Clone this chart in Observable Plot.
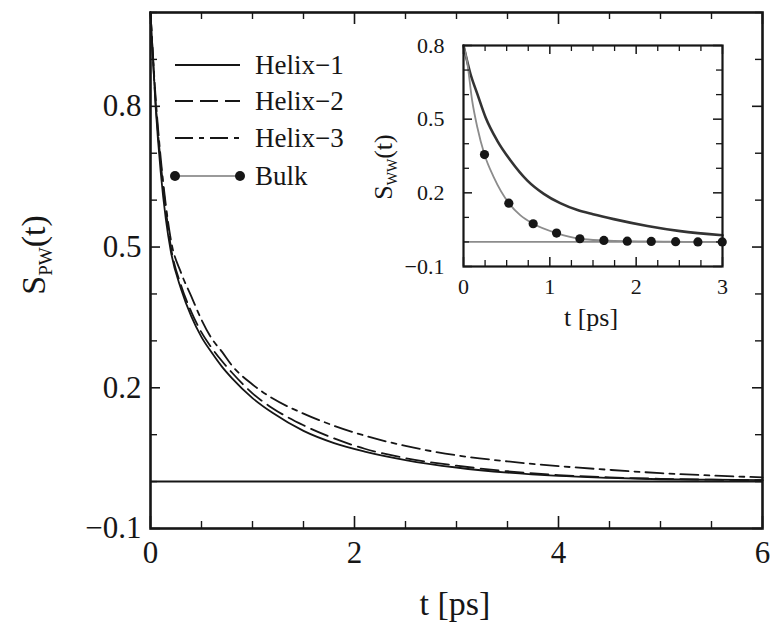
<!DOCTYPE html>
<html><head><meta charset="utf-8">
<script src="https://cdn.jsdelivr.net/npm/d3@7"></script>
<script src="https://cdn.jsdelivr.net/npm/@observablehq/plot@0.6"></script>
<style>
html,body{margin:0;padding:0;background:#fff;}
#wrap{position:relative;width:770px;height:630px;overflow:hidden;background:#fff;}
#wrap > svg{position:absolute;}
</style></head><body><div id="wrap"></div>
<script>
// ---- main panel data: S_PW(t) ----
const helixT = [0,0.05,0.1,0.15,0.2,0.3,0.4,0.5,0.6,0.7,0.8,1.0,1.2,1.5,1.8,2.1,2.5,3.0,3.5,4.0,4.5,5.0,5.5,6.0];
const helix1 = [1.0,0.80,0.66,0.56,0.49,0.41,0.352,0.308,0.275,0.245,0.22,0.178,0.146,0.108,0.082,0.064,0.046,0.030,0.019,0.012,0.008,0.005,0.004,0.003];
const helix2 = [1.0,0.81,0.68,0.58,0.50,0.418,0.362,0.318,0.285,0.257,0.232,0.188,0.156,0.12,0.092,0.070,0.050,0.034,0.022,0.014,0.009,0.006,0.004,0.003];
const helix3 = [1.0,0.82,0.69,0.59,0.515,0.445,0.395,0.345,0.305,0.277,0.247,0.207,0.177,0.145,0.119,0.098,0.076,0.056,0.043,0.033,0.025,0.018,0.013,0.009];
const seriesNames = ["Helix\u22121","Helix\u22122","Helix\u22123","Bulk"];

// ---- inset data: S_WW(t) ----
const insetT = [0,0.08,0.16,0.255,0.39,0.545,0.74,0.93,1.12,1.32,1.5,1.74,2.13,2.51,3.0];
const insetHelix = [0.8,0.685,0.603,0.508,0.413,0.332,0.25,0.196,0.158,0.13,0.113,0.093,0.065,0.044,0.027];
const bulkT = [0,0.04,0.10,0.16,0.243,0.35,0.525,0.66,0.807,1.078,1.348,1.626,1.897,2.175,2.457,2.715,2.997];
const bulkS = [0.8,0.739,0.576,0.467,0.356,0.264,0.158,0.108,0.074,0.036,0.013,0.006,0.003,0.002,0.001,0.0,0.0];
const bulkDotT = [0.243,0.525,0.807,1.078,1.348,1.626,1.897,2.175,2.457,2.715,2.997];
const bulkDotS = [0.356,0.158,0.074,0.036,0.013,0.006,0.003,0.002,0.001,0.0,0.0];

// ---- ticks ----
const mainXTicks = [0,2,4,6];
const mainYTicks = [0.8,0.5,0.2,-0.1];
const insetXTicks = [0,1,2,3];
const insetYTicks = [0.8,0.5,0.2,-0.1];

const FONT = "Liberation Serif";
const INK = "#161616";

const wrap = document.getElementById("wrap");
const W = 770, H = 630, mL = 150, mR = 8, mT = 12, mB = 102;
const iW = W - mL - mR, iH = H - mT - mB;

const toRows = (xs, ys) => xs.map((t, i) => ({t, s: ys[i]}));
const h1 = toRows(helixT, helix1), h2 = toRows(helixT, helix2), h3 = toRows(helixT, helix3);
const minorX = d3.range(0, 6.001, 0.5).filter(v => !mainXTicks.includes(v));
const minorY = d3.range(-0.1, 1.001, 0.1).map(v => +v.toFixed(2)).filter(v => !mainYTicks.includes(v));

const main = Plot.plot({
  width: W, height: H, marginLeft: mL, marginRight: mR, marginTop: mT, marginBottom: mB,
  style: {fontFamily: FONT, fontSize: "31px", color: INK, background: "transparent"},
  x: {domain: [0, 6]},
  y: {domain: [-0.1, 1.0]},
  marks: [
    Plot.ruleY([0], {stroke: INK, strokeWidth: 2}),
    Plot.line(h1, {x: "t", y: "s", stroke: INK, strokeWidth: 1.8, curve: "monotone-x"}),
    Plot.line(h2, {x: "t", y: "s", stroke: INK, strokeWidth: 1.8, strokeDasharray: "18,7", curve: "monotone-x"}),
    Plot.line(h3, {x: "t", y: "s", stroke: INK, strokeWidth: 1.8, strokeDasharray: "18,6,5,6", curve: "monotone-x"}),
    // inward ticks on all four sides
    Plot.tickX(mainXTicks, {x: d => d, insetTop: iH - 12, stroke: INK, strokeWidth: 1.6}),
    Plot.tickX(minorX, {x: d => d, insetTop: iH - 7, stroke: INK, strokeWidth: 1.4}),
    Plot.tickX(mainXTicks, {x: d => d, insetBottom: iH - 12, stroke: INK, strokeWidth: 1.6}),
    Plot.tickX(minorX, {x: d => d, insetBottom: iH - 7, stroke: INK, strokeWidth: 1.4}),
    Plot.tickY(mainYTicks, {y: d => d, insetRight: iW - 10, stroke: INK, strokeWidth: 1.6}),
    Plot.tickY(minorY, {y: d => d, insetRight: iW - 7, stroke: INK, strokeWidth: 1.4}),
    Plot.tickY(mainYTicks, {y: d => d, insetLeft: iW - 10, stroke: INK, strokeWidth: 1.6}),
    Plot.tickY(minorY, {y: d => d, insetLeft: iW - 7, stroke: INK, strokeWidth: 1.4}),
    Plot.axisX(mainXTicks, {tickSize: 0, tickPadding: 12, label: null, tickFormat: d => String(d)}),
    Plot.axisY(mainYTicks, {tickSize: 0, tickPadding: 9, label: null, tickFormat: d3.format(".1f")}),
    Plot.frame({stroke: INK, strokeWidth: 2.6})
  ]
});
main.style.left = "0px"; main.style.top = "0px";
wrap.appendChild(main);

const ms = d3.select(main);
// axis titles
ms.append("text").attr("x", 455).attr("y", 615).attr("text-anchor", "middle")
  .attr("font-size", 34).attr("fill", INK).text("t [ps]");
const yl = ms.append("text").attr("transform", "translate(45,255) rotate(-90)").attr("text-anchor", "middle")
  .attr("font-size", 34).attr("fill", INK);
yl.append("tspan").text("S");
yl.append("tspan").attr("font-size", 19).attr("dy", 7).text("PW");
yl.append("tspan").attr("dy", -7).text("(t)");

// legend
const legStyles = [
  {dash: null, stroke: INK, dots: false},
  {dash: "18,7", stroke: INK, dots: false},
  {dash: "18,6,5,6", stroke: INK, dots: false},
  {dash: null, stroke: "#9a9a9a", dots: true}
];
const legY = [65, 101, 138, 176];
seriesNames.forEach((name, i) => {
  const st = legStyles[i];
  const ln = ms.append("line").attr("x1", 175).attr("x2", 240).attr("y1", legY[i]).attr("y2", legY[i])
    .attr("stroke", st.stroke).attr("stroke-width", st.dots ? 2 : 1.8);
  if (st.dash) ln.attr("stroke-dasharray", st.dash);
  if (st.dots) {
    [175, 240].forEach(cx => ms.append("circle").attr("cx", cx).attr("cy", legY[i]).attr("r", 5).attr("fill", INK));
  }
  ms.append("text").attr("x", 255).attr("y", legY[i]).attr("dy", "0.35em").attr("text-anchor", "start")
    .attr("font-size", 27).attr("fill", INK).text(name);
});

// ---- inset ----
const IW = 420, IH = 340, imL = 123, imR = 38, imT = 45, imB = 74;
const iiW = IW - imL - imR, iiH = IH - imT - imB;
const insetMinorX = d3.range(0, 3.001, 0.25).filter(v => !insetXTicks.includes(v));
const insetMinorY = d3.range(-0.1, 0.801, 0.1).map(v => +v.toFixed(2)).filter(v => !insetYTicks.includes(v));
const GR = "#8c8c8c";

const inset = Plot.plot({
  width: IW, height: IH, marginLeft: imL, marginRight: imR, marginTop: imT, marginBottom: imB,
  style: {fontFamily: FONT, fontSize: "22px", color: INK, background: "transparent"},
  x: {domain: [0, 3]},
  y: {domain: [-0.1, 0.8]},
  marks: [
    Plot.frame({fill: "white", stroke: "none"}),
    Plot.ruleY([0], {stroke: GR, strokeWidth: 1.8}),
    Plot.line(toRows(insetT, insetHelix), {x: "t", y: "s", stroke: "#333", strokeWidth: 2.6, curve: "monotone-x"}),
    Plot.line(toRows(bulkT, bulkS), {x: "t", y: "s", stroke: GR, strokeWidth: 1.8, curve: "monotone-x"}),
    Plot.dot(toRows(bulkDotT, bulkDotS), {x: "t", y: "s", r: 4.6, fill: INK, stroke: "none", clip: false}),
    Plot.tickX(insetXTicks, {x: d => d, insetTop: iiH - 9, stroke: INK, strokeWidth: 1.5}),
    Plot.tickX(insetMinorX, {x: d => d, insetTop: iiH - 6, stroke: INK, strokeWidth: 1.3}),
    Plot.tickX(insetXTicks, {x: d => d, insetBottom: iiH - 9, stroke: INK, strokeWidth: 1.5}),
    Plot.tickX(insetMinorX, {x: d => d, insetBottom: iiH - 6, stroke: INK, strokeWidth: 1.3}),
    Plot.tickY(insetYTicks, {y: d => d, insetRight: iiW - 9, stroke: INK, strokeWidth: 1.5}),
    Plot.tickY(insetMinorY, {y: d => d, insetRight: iiW - 6, stroke: INK, strokeWidth: 1.3}),
    Plot.tickY(insetYTicks, {y: d => d, insetLeft: iiW - 9, stroke: INK, strokeWidth: 1.5}),
    Plot.tickY(insetMinorY, {y: d => d, insetLeft: iiW - 6, stroke: INK, strokeWidth: 1.3}),
    Plot.axisX(insetXTicks, {tickSize: 0, tickPadding: 12, label: null, tickFormat: d => String(d)}),
    Plot.axisY(insetYTicks, {tickSize: 0, tickPadding: 19, label: null, tickFormat: d3.format(".1f")}),
    Plot.frame({stroke: INK, strokeWidth: 2.2})
  ]
});
inset.style.left = "340px"; inset.style.top = "0px";
wrap.appendChild(inset);
const is = d3.select(inset);
is.append("text").attr("x", 251).attr("y", 326).attr("text-anchor", "middle")
  .attr("font-size", 26).attr("fill", INK).text("t [ps]");
const iyl = is.append("text").attr("transform", "translate(52,167) rotate(-90)").attr("text-anchor", "middle")
  .attr("font-size", 26).attr("fill", INK);
iyl.append("tspan").text("S");
iyl.append("tspan").attr("font-size", 14).attr("dy", 5).text("WW");
iyl.append("tspan").attr("dy", -5).text("(t)");

// force the serif face on every text element and the svg roots
[main, inset].forEach(svg => {
  svg.setAttribute("font-family", FONT);
  svg.style.fontFamily = FONT;
  d3.select(svg).selectAll("g,text,tspan").attr("font-family", FONT).style("font-family", FONT);
});
</script></body></html>
